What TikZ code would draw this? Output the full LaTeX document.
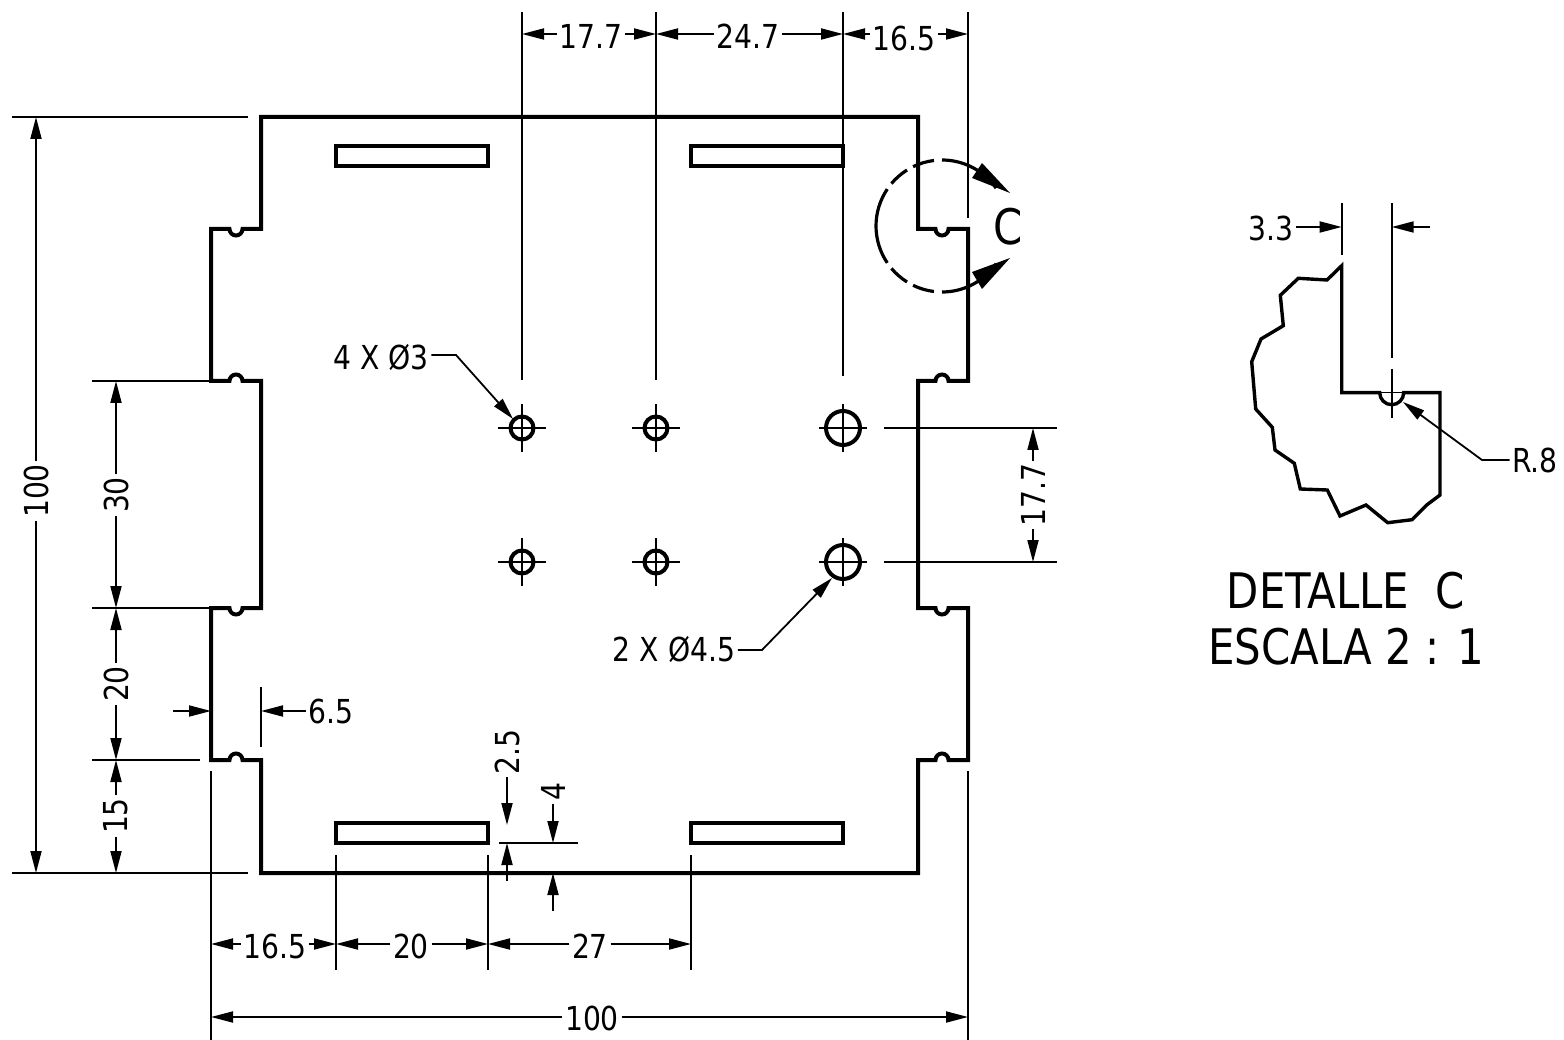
\documentclass[tikz,border=0pt]{standalone}
\usepackage{fontspec}
\setmainfont{DejaVu Sans Condensed}[FakeStretch=0.95]
\usetikzlibrary{arrows.meta}
\tikzset{
  thinl/.style={line width=1.8pt,line cap=butt},
  thick4/.style={line width=4pt,line join=miter},
  dimarr/.style={thinl,-{Triangle[length=22pt,width=11pt]}},
  lab/.style={font=\fontsize{33}{35}\selectfont,inner sep=2.5pt},
  bigl/.style={font=\fontsize{49}{51}\selectfont,inner sep=0pt},
  vlab/.style={lab,rotate=90},
}
\begin{document}
\begin{tikzpicture}[x=1pt,y=-1pt]
\useasboundingbox (0,0) rectangle (1564,1040);
% outline
\draw[thick4] (261,117) -- (918,117) -- (918,229) -- (935.5,229) arc[start angle=180,end angle=0,radius=6.5]
 -- (968,229) -- (968,381) -- (948.5,381) arc[start angle=0,end angle=-180,radius=6.5]
 -- (918,381) -- (918,608) -- (935.5,608) arc[start angle=180,end angle=0,radius=6.5]
 -- (968,608) -- (968,760) -- (948.5,760) arc[start angle=0,end angle=-180,radius=6.5]
 -- (918,760) -- (918,873) -- (261,873) -- (261,760) -- (242.5,760) arc[start angle=0,end angle=-180,radius=6.5]
 -- (211,760) -- (211,608) -- (229.5,608) arc[start angle=180,end angle=0,radius=6.5]
 -- (261,608) -- (261,381) -- (242.5,381) arc[start angle=0,end angle=-180,radius=6.5]
 -- (211,381) -- (211,229) -- (229.5,229) arc[start angle=180,end angle=0,radius=6.5]
 -- (261,229) -- cycle;
% slots
\foreach \xa/\xb/\ya/\yb in {336/488/146/166,691/843/146/166,336/488/823/843,691/843/823/843}
  \draw[thick4] (\xa,\ya) rectangle (\xb,\yb);
% holes
\foreach \hx/\hy/\hr in {522/428/11.5,656/428/11.5,843/428/17,522/562/11.5,656/562/11.5,843/562/17}{
  \draw[thick4] (\hx,\hy) circle[radius=\hr];
  \draw[thinl] (\hx-24,\hy) -- (\hx+24,\hy) (\hx,\hy-24) -- (\hx,\hy+24);
}
% extension lines
\draw[thinl] (522,12) -- (522,380) (656,12) -- (656,380) (843,12) -- (843,376) (968,12) -- (968,218);
\draw[thinl] (12,117) -- (248,117) (12,873) -- (248,873);
\draw[thinl] (92,381) -- (211,381) (92,608) -- (211,608) (92,760) -- (200,760);
\draw[thinl] (261,687) -- (261,747);
\draw[thinl] (211,771) -- (211,1040) (968,771) -- (968,1040);
\draw[thinl] (336,855) -- (336,970) (488,855) -- (488,970) (691,855) -- (691,970);
\draw[thinl] (499,843) -- (578,843);
\draw[thinl] (884,428) -- (1057,428) (884,562) -- (1057,562);
% top dims
\node[lab] (t177) at (591,36) {17.7};
\node[lab] (t247) at (748,36) {24.7};
\node[lab] (t165) at (904,38) {16.5};
\coordinate (a1) at (522,34); \coordinate (a2) at (656,34); \coordinate (a3) at (843,34); \coordinate (a4) at (968,34);
\draw[dimarr] (t177.west|-a1) -- (a1); \draw[dimarr] (t177.east|-a1) -- (a2);
\draw[dimarr] (t247.west|-a1) -- (a2); \draw[dimarr] (t247.east|-a1) -- (a3);
\draw[dimarr] (t165.west|-a1) -- (a3); \draw[dimarr] (t165.east|-a1) -- (a4);
% left dims
\node[vlab] (l100) at (36,491) {100};
\coordinate (b1) at (36,117); \coordinate (b2) at (36,873);
\draw[dimarr] (l100) -- (b1); \draw[dimarr] (l100) -- (b2);
\node[vlab] (l30) at (116,495) {30};
\node[vlab] (l20) at (116,684) {20};
\node[vlab] (l15) at (116,816) {15};
\coordinate (c1) at (116,381); \coordinate (c2) at (116,608); \coordinate (c3) at (116,760); \coordinate (c4) at (116,873);
\draw[dimarr] (l30) -- (c1); \draw[dimarr] (l30) -- (c2);
\draw[dimarr] (l20) -- (c2); \draw[dimarr] (l20) -- (c3);
\draw[dimarr] (l15) -- (c3); \draw[dimarr] (l15) -- (c4);
% 6.5
\node[lab] (t65) at (331,711) {6.5};
\coordinate (d1) at (173,711); \coordinate (d2) at (211,711); \coordinate (d3) at (261,711);
\draw[dimarr] (d1) -- (d2); \draw[dimarr] (t65) -- (d3);
% bottom dims
\node[lab] (b165) at (275,946) {16.5};
\node[lab] (b20) at (411,946) {20};
\node[lab] (b27) at (590,946) {27};
\coordinate (e1) at (211,944); \coordinate (e2) at (336,944); \coordinate (e3) at (488,944); \coordinate (e4) at (691,944);
\draw[dimarr] (b165.west|-e1) -- (e1); \draw[dimarr] (b165.east|-e1) -- (e2);
\draw[dimarr] (b20.west|-e1) -- (e2); \draw[dimarr] (b20.east|-e1) -- (e3);
\draw[dimarr] (b27.west|-e1) -- (e3); \draw[dimarr] (b27.east|-e1) -- (e4);
\node[lab] (b100) at (592,1018) {100};
\coordinate (f1) at (211,1017); \coordinate (f2) at (968,1017);
\draw[dimarr] (b100.west|-f1) -- (f1); \draw[dimarr] (b100.east|-f1) -- (f2);
% 2.5 and 4
\node[vlab] (t25) at (507,752) {2.5};
\node[vlab] (t4) at (553,792) {4};
\coordinate (g1) at (507,825); \coordinate (g2) at (507,843); \coordinate (g3) at (507,881);
\coordinate (h1) at (553,843); \coordinate (h2) at (553,873); \coordinate (h3) at (553,911);
\draw[dimarr] (t25) -- (g1); \draw[dimarr] (g3) -- (g2);
\draw[dimarr] (t4) -- (h1); \draw[dimarr] (h3) -- (h2);
% 17.7 right
\node[vlab] (r177) at (1033,495) {17.7};
\coordinate (k1) at (1033,428); \coordinate (k2) at (1033,562);
\draw[dimarr] (r177) -- (k1); \draw[dimarr] (r177) -- (k2);
% hole leaders
\node[lab] (h4) at (381,358) {4 X Ø3};
\node[lab] (h2x) at (674,650) {2 X Ø4.5};
\coordinate (m1) at (456,355); \coordinate (m2) at (513,419);
\coordinate (n1) at (762,650); \coordinate (n2) at (832,578);
\draw[dimarr] (h4.east|-m1) -- (m1) -- (m2);
\draw[dimarr] (h2x.east|-n1) -- (n1) -- (n2);
% section C
\begin{scope}[shift={(942,226)}]
\foreach \sa/\sb in {-90/-35,-97/-116,-122/-140,-146/-214,-220/-238,-244/-263,-270/-325}
  \draw[line width=3.2pt] (\sa:66) arc[start angle=\sa,end angle=\sb,radius=66];
\end{scope}
\fill (1010,193) -- (982,163) -- (972,178) -- cycle;
\fill (1010,258) -- (982,289) -- (972,272) -- cycle;
\node[bigl] (secC) at (1008,227) {C};
% detail
\draw[thick4,line width=3.4pt] (1341.7,265.7) -- (1327,280) -- (1298.3,278.3) -- (1280.3,295.3) -- (1283.3,325.7) -- (1261,339) -- (1251.7,361.7) -- (1255.7,409) -- (1272.3,427.3) -- (1275,450) -- (1294.3,463.3) -- (1300.3,489) -- (1327.3,490) -- (1340,516) -- (1366,505) -- (1387.7,522.7) -- (1412,519.7) -- (1426.7,505) -- (1440,495) -- (1440,392.7) -- (1403.7,392.7) arc[start angle=0,end angle=180,radius=12] -- (1341.7,392.7) -- cycle;
\draw[line width=1.2pt] (1379.7,392.7) -- (1403.7,392.7);
\draw[thinl] (1391.7,203) -- (1391.7,358) (1391.7,369) -- (1391.7,418) (1341.7,203) -- (1341.7,255);
\node[lab] (d33) at (1271,228) {3.3};
\coordinate (p1) at (1341.7,227); \coordinate (p2) at (1430,227); \coordinate (p3) at (1391.7,227);
\draw[dimarr] (d33.east|-p1) -- (p1); \draw[dimarr] (p2) -- (p3);
\node[lab] (r8) at (1535,460) {R.8};
\coordinate (q1) at (1482,460); \coordinate (q2) at (1403,402);
\draw[dimarr] (r8.west|-q1) -- (q1) -- (q2);
\node[bigl] (dt1) at (1346,591) {DETALLE\ \ C};
\node[bigl] (dt2) at (1346,647) {ESCALA 2 : 1};
\end{tikzpicture}
\end{document}
